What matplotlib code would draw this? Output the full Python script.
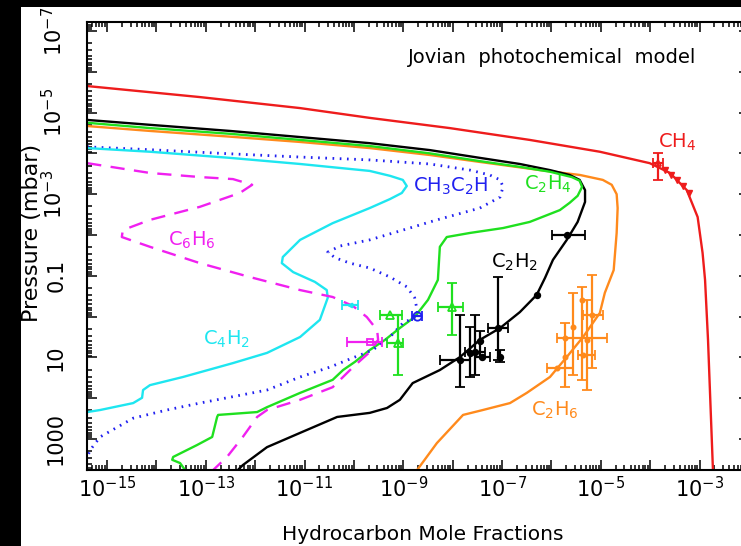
import matplotlib
matplotlib.use("Agg")
import matplotlib.pyplot as plt
import numpy as np
from matplotlib.patches import Rectangle
from matplotlib.ticker import LogLocator, FuncFormatter, NullFormatter

plt.rcParams["mathtext.default"] = "regular"

# Model profiles: log10(mole fraction) against log10(pressure / mbar)
ch4_lx = [-15.40, -13.12, -11.09, -9.68, -8.06, -6.44, -5.02, -4.01, -3.60, -3.26,
          -3.04, -2.94, -2.89, -2.83, -2.73]
ch4_lp = [-5.65, -5.38, -5.11, -4.87, -4.62, -4.33, -4.04, -3.76, -3.52, -3.10,
          -2.44, -1.56, -0.90, 0.57, 3.76]

c2h2_lx = [-15.40, -14.13, -12.51, -11.09, -9.68, -8.46, -7.45, -6.64, -6.03, -5.63,
           -5.43, -5.32, -5.32, -5.47, -5.69, -5.97, -6.13, -6.30, -6.64, -7.04,
           -7.45, -7.85, -8.26, -8.81, -9.07, -9.33, -9.68, -10.34, -11.09, -11.76,
           -12.25, -12.35]
c2h2_lp = [-4.82, -4.70, -4.55, -4.40, -4.25, -4.08, -3.89, -3.74, -3.59, -3.47,
           -3.35, -3.10, -2.81, -2.32, -1.88, -1.39, -0.95, -0.53, -0.11, 0.28,
           0.57, 0.99, 1.31, 1.63, 2.04, 2.24, 2.36, 2.46, 2.85, 3.20,
           3.64, 3.76]

c2h4_lx = [-15.40, -14.13, -12.51, -11.09, -9.68, -8.46, -7.45, -6.64, -6.03, -5.59,
           -5.43, -5.38, -5.47, -5.63, -5.83, -6.44, -6.98, -7.65, -8.12, -8.26,
           -8.30, -8.50, -8.77, -9.07, -9.37, -9.68, -9.98, -10.22, -10.43, -11.09,
           -11.76, -11.96, -12.75, -12.77, -12.87, -13.18, -13.66, -13.68, -13.52, -13.42]
c2h4_lp = [-4.75, -4.62, -4.48, -4.33, -4.18, -4.00, -3.81, -3.67, -3.55, -3.42,
           -3.33, -3.18, -2.96, -2.79, -2.61, -2.32, -2.17, -2.05, -1.95, -1.71,
           -0.90, -0.41, 0.01, 0.28, 0.57, 0.82, 1.11, 1.31, 1.55, 1.87,
           2.22, 2.34, 2.41, 2.46, 2.95, 3.15, 3.44, 3.51, 3.59, 3.76]

c2h6_lx = [-15.40, -14.13, -12.51, -11.09, -9.68, -8.46, -7.45, -6.23, -5.42, -4.96,
           -4.78, -4.68, -4.66, -4.68, -4.74, -4.92, -5.02, -5.36, -5.69, -6.03,
           -6.50, -6.84, -7.39, -7.79, -8.32, -8.72]
c2h6_lp = [-4.67, -4.55, -4.41, -4.28, -4.13, -3.96, -3.79, -3.59, -3.47, -3.35,
           -3.23, -3.00, -2.66, -2.05, -1.14, -0.58, -0.09, 0.50, 0.99, 1.48,
           1.87, 2.12, 2.29, 2.41, 3.10, 3.76]

c4h2_lx = [-15.40, -14.13, -12.51, -11.09, -9.68, -9.27, -9.01, -8.93, -9.03, -9.27,
           -9.68, -10.43, -11.09, -11.44, -11.46, -11.23, -10.79, -10.55, -10.53, -10.69,
           -11.09, -11.76, -12.45, -13.46, -14.13, -14.27, -14.29, -14.47, -15.14, -15.40]
c4h2_lp = [-4.13, -4.04, -3.89, -3.74, -3.57, -3.45, -3.35, -3.20, -3.03, -2.88,
           -2.66, -2.29, -1.88, -1.46, -1.31, -1.09, -0.85, -0.65, -0.46, 0.08,
           0.50, 0.89, 1.14, 1.48, 1.68, 1.80, 1.99, 2.12, 2.29, 2.34]

ch3c2h_lx = [-15.40, -14.13, -12.51, -11.09, -9.68, -8.46, -7.65, -7.25, -7.04, -6.98,
             -7.04, -7.45, -8.32, -9.01, -9.68, -10.28, -10.53, -10.38, -10.08, -9.68,
             -9.27, -8.93, -8.77, -8.72, -8.72, -9.01, -9.27, -9.62, -10.02, -10.49,
             -11.09, -11.76, -13.12, -13.79, -14.47, -15.14, -15.34, -15.40]
ch3c2h_lp = [-4.16, -4.09, -3.99, -3.91, -3.84, -3.74, -3.59, -3.47, -3.35, -3.18,
             -2.93, -2.66, -2.37, -2.12, -1.88, -1.73, -1.58, -1.44, -1.31, -1.19,
             -0.97, -0.73, -0.46, -0.16, -0.01, 0.16, 0.50, 0.82, 1.01, 1.24,
             1.48, 1.80, 2.12, 2.29, 2.49, 2.95, 3.27, 3.44]

c6h6_lx = [-15.40, -14.13, -13.12, -12.45, -12.06, -12.31, -13.12, -14.13, -14.68, -14.70,
           -14.13, -13.12, -12.11, -11.09, -10.43, -10.02, -9.74, -9.53, -9.51, -9.68,
           -10.02, -10.43, -11.09, -11.76, -11.96, -12.25, -12.57, -12.85]
c6h6_lp = [-3.76, -3.52, -3.42, -3.37, -3.23, -3.03, -2.69, -2.37, -2.12, -1.95,
           -1.71, -1.31, -0.97, -0.65, -0.48, -0.26, 0.01, 0.33, 0.57, 0.87,
           1.24, 1.73, 2.04, 2.29, 2.46, 2.95, 3.44, 3.76]

# Observations: centre, then (low, high) ranges in log10; None = no bar
ch4_obs = [(-3.85, -3.76, (-3.95, -3.74), (-4.01, -3.35))]
ch4_tri_lx = [-3.70, -3.58, -3.46, -3.34, -3.22]
ch4_tri_lp = [-3.59, -3.47, -3.35, -3.20, -3.03]

c2h2_obs = [
    (-5.69, -2.00, (-5.99, -5.32), None),
    (-6.30, -0.53, None, None),
    (-7.08, 0.28, (-7.29, -6.88), (-0.97, 1.06)),
    (-7.04, 0.99, None, (0.82, 1.11)),
    (-7.85, 1.06, (-8.26, -7.65), (-0.04, 1.72)),
    (-7.65, 0.89, None, (0.25, 1.48)),
    (-7.55, 0.87, (-7.75, -7.35), (-0.04, 1.43)),
    (-7.45, 0.60, None, (0.35, 1.00)),
    (-7.41, 0.99, (-7.55, -7.25), None),
]
c2h4_obs = [
    (-9.27, -0.04, (-9.47, -9.03), None),
    (-9.11, 0.65, (-9.33, -9.01), (-0.04, 1.43)),
    (-8.02, -0.24, (-8.30, -7.79), (-0.82, 0.45)),
]
c2h6_obs = [
    (-5.18, -0.04, (-5.36, -4.96), (-1.02, 1.26)),
    (-5.38, -0.41, None, (-0.73, 1.55)),
    (-5.57, 0.25, None, (-0.58, 1.43)),
    (-5.73, 0.52, (-5.89, -4.88), None),
    (-5.73, 0.99, None, (0.16, 1.73)),
    (-5.89, 1.26, (-6.09, -5.57), None),
    (-5.28, 0.57, None, (-0.41, 1.80)),
    (-5.36, 0.94, (-5.46, -5.12), None),
]
c4h2_obs = [(-10.08, -0.28, (-10.24, -9.92), None)]
c6h6_obs = [(-9.68, 0.62, (-10.14, -9.43), None)]
ch3c2h_obs = [(-8.72, -0.01, (-8.82, -8.62), None)]

RED = "#ee1c1c"
GREEN = "#1fe01f"
ORANGE = "#ff8a1c"
CYAN = "#1ee6f0"
BLUE = "#2020f0"
MAGENTA = "#f020f0"


def p10(v):
    return np.power(10.0, np.asarray(v, dtype=float))


def draw_obs(ax, obs, color, marker, ms=4, mfc=None):
    for lx, lp, xr, pr in obs:
        x, p = 10.0 ** lx, 10.0 ** lp
        xerr = None if xr is None else [[x - 10.0 ** xr[0]], [10.0 ** xr[1] - x]]
        yerr = None if pr is None else [[p - 10.0 ** pr[0]], [10.0 ** pr[1] - p]]
        ax.errorbar([x], [p], xerr=xerr, yerr=yerr, fmt=marker, color=color,
                    ms=ms, mfc=mfc if mfc else color, mec=color, mew=1.3,
                    elinewidth=1.6, capsize=3.5, capthick=1.6, zorder=5)


fig = plt.figure(figsize=(7.41, 5.46), dpi=100, facecolor="black")
fig.add_artist(Rectangle((21 / 741, 0), 1, 1 - 7 / 546, transform=fig.transFigure,
                         facecolor="white", edgecolor="none", zorder=-10))
ax = fig.add_axes([87 / 741, 76 / 546, (749 - 87) / 741, (470 - 22) / 546])
ax.set_facecolor("white")

lw = 1.7
ax.plot(p10(ch4_lx), p10(ch4_lp), color=RED, lw=lw)
ax.plot(p10(c2h6_lx), p10(c2h6_lp), color=ORANGE, lw=lw)
ax.plot(p10(c2h2_lx), p10(c2h2_lp), color="black", lw=lw)
ax.plot(p10(c2h4_lx), p10(c2h4_lp), color=GREEN, lw=lw)
ax.plot(p10(ch3c2h_lx), p10(ch3c2h_lp), color=BLUE, lw=2.0, dashes=(0.6, 2.0))
ax.plot(p10(c4h2_lx), p10(c4h2_lp), color=CYAN, lw=lw)
ax.plot(p10(c6h6_lx), p10(c6h6_lp), color=MAGENTA, lw=lw, dashes=(6, 4))

draw_obs(ax, ch4_obs, RED, "^", ms=5, mfc="none")
ax.plot(p10(ch4_tri_lx), p10(ch4_tri_lp), ls="none", marker="v", ms=5, color=RED)
draw_obs(ax, c2h2_obs, "black", "o", ms=4)
draw_obs(ax, c2h4_obs, GREEN, "^", ms=6, mfc="none")
draw_obs(ax, c2h6_obs, ORANGE, "o", ms=3)
draw_obs(ax, c4h2_obs, CYAN, "<", ms=3)
draw_obs(ax, c6h6_obs, MAGENTA, "s", ms=4, mfc="none")
draw_obs(ax, ch3c2h_obs, BLUE, "o", ms=6, mfc="none")

ax.set_xscale("log")
ax.set_yscale("log")
ax.set_xlim(10 ** -15.405, 1e-2)
ax.set_ylim(10 ** 3.76, 10 ** -7.22)


def xfmt(v, pos):
    e = int(round(np.log10(v)))
    return rf"$10^{{{e}}}$" if e % 2 else ""


def yfmt(v, pos):
    e = int(round(np.log10(v)))
    if e % 2 == 0:
        return ""
    if e < -1:
        return rf"$10^{{{e}}}$"
    return f"{v:g}"


ax.set_xticks(p10(np.arange(-15, -1)))
ax.set_yticks(p10(np.arange(-7, 4)))
ax.xaxis.set_minor_locator(LogLocator(base=10, subs=np.arange(2, 10), numticks=40))
ax.yaxis.set_minor_locator(LogLocator(base=10, subs=np.arange(2, 10), numticks=40))
ax.xaxis.set_major_formatter(FuncFormatter(xfmt))
ax.yaxis.set_major_formatter(FuncFormatter(yfmt))
ax.xaxis.set_minor_formatter(NullFormatter())
ax.yaxis.set_minor_formatter(NullFormatter())

ax.tick_params(which="both", direction="in", top=True, right=True, width=1.1,
               labelsize=15)
ax.tick_params(which="major", length=7.5)
ax.tick_params(which="minor", length=3.8)
ax.tick_params(axis="x", pad=4)
ax.tick_params(axis="y", pad=15, labelrotation=90)
for lab in ax.get_yticklabels():
    lab.set_va("center")
for sp in ax.spines.values():
    sp.set_linewidth(1.5)

# species names
ax.text(10 ** -3.46, 10 ** -4.28, "CH$_4$", color=RED, fontsize=14, ha="center", va="center")
ax.text(10 ** -8.04, 10 ** -3.18, "CH$_3$C$_2$H", color=BLUE, fontsize=14, ha="center", va="center")
ax.text(10 ** -6.07, 10 ** -3.23, "C$_2$H$_4$", color=GREEN, fontsize=14, ha="center", va="center")
ax.text(10 ** -13.28, 10 ** -1.88, "C$_6$H$_6$", color=MAGENTA, fontsize=14, ha="center", va="center")
ax.text(10 ** -6.74, 10 ** -1.34, "C$_2$H$_2$", color="black", fontsize=14, ha="center", va="center")
ax.text(10 ** -12.57, 10 ** 0.57, "C$_4$H$_2$", color=CYAN, fontsize=14, ha="center", va="center")
ax.text(10 ** -5.93, 10 ** 2.29, "C$_2$H$_6$", color=ORANGE, fontsize=14, ha="center", va="center")
ax.text(10 ** -5.99, 10 ** -6.34, "Jovian  photochemical  model", color="black",
        fontsize=14, ha="center", va="center")

fig.text(423 / 741, 1 - 534 / 546, "Hydrocarbon Mole Fractions", fontsize=14.5,
         ha="center", va="center")
fig.text(32 / 741, 1 - 233 / 546, "Pressure (mbar)", fontsize=16, rotation=90,
         ha="center", va="center")

fig.savefig("out.png", dpi=100, facecolor=fig.get_facecolor())
